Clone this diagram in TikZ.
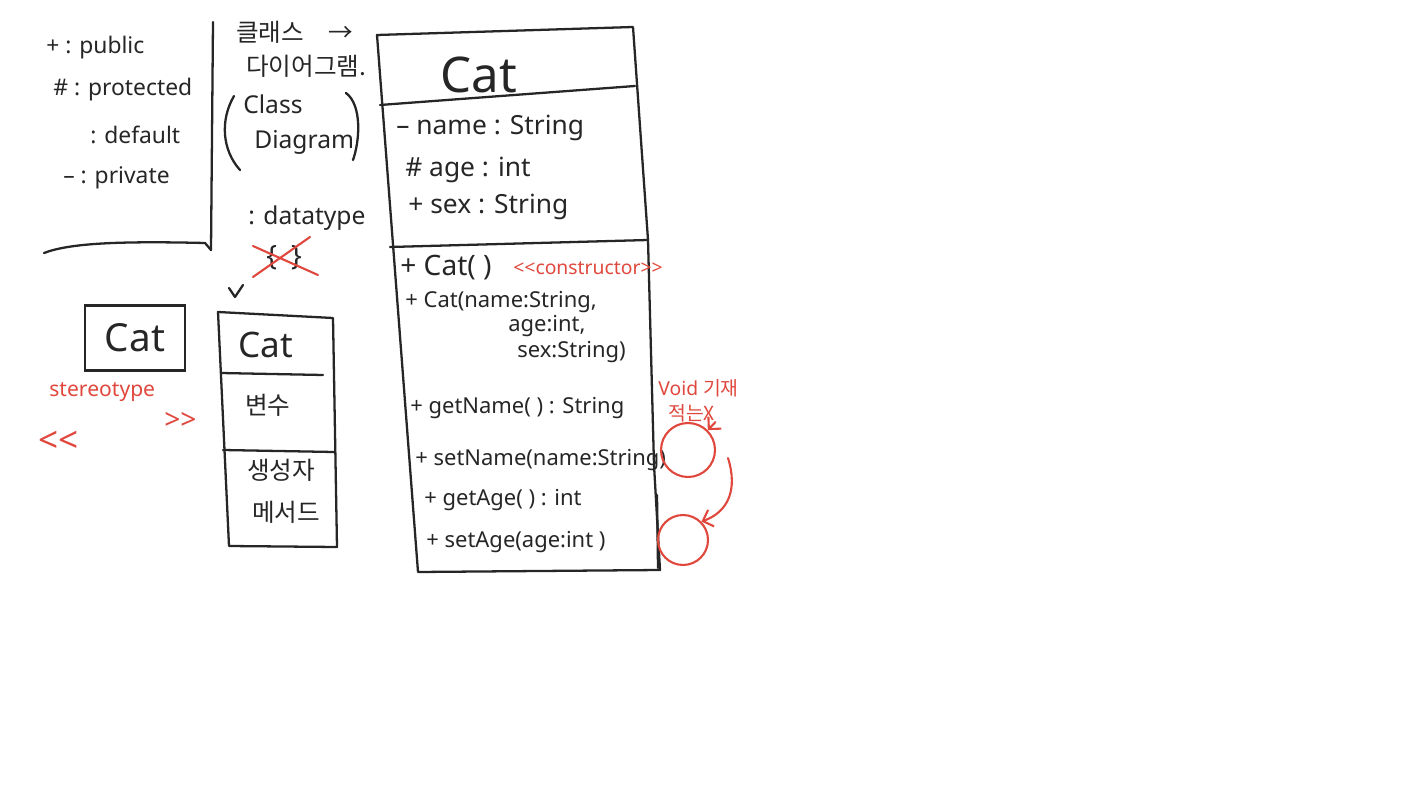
\documentclass[tikz,border=0pt]{standalone}
\usepackage{fontspec}
\setmainfont{Noto Sans}
\newfontfamily\kr{Noto Sans CJK KR}
\usepackage{tikz}
\usetikzlibrary{positioning, arrows.meta}
\definecolor{pen}{HTML}{262626}
\definecolor{redpen}{HTML}{E0483E}

\tikzset{
  ink/.style={draw=pen, line width=1.3pt, line cap=round, line join=round},
  redink/.style={draw=redpen, line width=1.2pt, line cap=round, line join=round},
  note/.style={anchor=west, inner sep=0pt, text=pen, font=\fontsize{13}{15}\selectfont},
  member/.style={note, font=\fontsize{15}{18}\selectfont},
  method/.style={note, font=\fontsize{12.5}{15}\selectfont},
  rednote/.style={anchor=west, inner sep=0pt, text=redpen, font=\fontsize{11}{13}\selectfont},
  krnote/.style={note, font=\kr\fontsize{14}{16}\selectfont},
}

\begin{document}
\begin{tikzpicture}[x=0.02cm, y=-0.02cm]
  \useasboundingbox (0,0) rectangle (1422,800);

  % visibility legend
  \node[note] (pub)  at (46,48)  {+ : public};
  \node[note] (prot) at (53,90)  {\# : protected};
  \node[note] (dflt) at (90,135) {: default};
  \node[note] (priv) at (63,178) {-- : private};
  \draw[ink] (213,22) -- (211,250);
  \draw[ink] (44,253) .. controls (70,243) and (120,241) .. (205,243) -- (211,250);

  % title notes
  \node[krnote] (title1) at (236,32) {클래스\quad →};
  \node[krnote] (title2) at (246,66) {다이어그램.};
  \node[note, font=\fontsize{14}{16}\selectfont] (cls) at (243,104) {Class};
  \node[note, font=\fontsize{14}{16}\selectfont] (dia) at (254,142) {Diagram};
  \draw[ink] (234,96) .. controls (220,120) and (222,150) .. (240,170);
  \draw[ink] (346,93) .. controls (362,105) and (360,140) .. (353,160);

  \node[note, font=\fontsize{14}{16}\selectfont] (dtype) at (248,218) {: datatype};
  \node[note, font=\fontsize{16}{18}\selectfont] (brace) at (266,258) {\{\enspace\}};
  \draw[redink] (253,277) -- (310,237);
  \draw[redink] (253,246) -- (318,275);
  \draw[ink] (229,288) -- (235,297) -- (243,285);

  % small class box
  \node[draw=pen, line width=1.3pt, minimum width=2cm, minimum height=1.3cm,
        font=\fontsize{22}{24}\selectfont, text=pen] (cat0) at (135,338) {Cat};
  \node[rednote, font=\fontsize{12}{14}\selectfont] (stereo) at (49,392) {stereotype};
  \node[rednote, font=\fontsize{20}{22}\selectfont] (lguil) at (38,442) {<{}<};
  \node[rednote, font=\fontsize{16}{18}\selectfont] (rguil) at (164,421) {>{}>};

  % class box with compartments
  \draw[ink] (218,312) -- (333,318) -- (337,547) -- (229,546) -- cycle;
  \draw[ink] (221,373) -- (323,375);
  \draw[ink] (223,450) -- (334,452);
  \node[note, font=\fontsize{20}{22}\selectfont] (cat1) at (238,345) {Cat};
  \node[krnote] (var)  at (245,405) {변수};
  \node[krnote] (ctor) at (247,470) {생성자};
  \node[krnote] (meth) at (252,512) {메서드};

  % Cat class
  \draw[ink] (377,35) -- (633,27) -- (648,240) -- (654,465) -- (660,570)
    -- (418,572) -- cycle;
  \draw[ink] (380,105) -- (635,86);
  \draw[ink] (390,247) -- (648,240);
  \draw[ink] (657,495) -- (658,568);
  \node[note, font=\fontsize{28}{30}\selectfont] (cat2) at (440,75) {Cat};

  \node[member] (name) at (396,128) {-- name : String};
  \node[member] (age)  at (405,170) {\# age : int};
  \node[member] (sex)  at (408,207) {+ sex : String};

  \node[method, font=\fontsize{16}{18}\selectfont] (ctor0) at (400,268) {+ Cat( )};
  \node[rednote] (ctag) [right=12pt of ctor0] {<{}<constructor>{}>};
  \node[method] (ctor1) at (405,302) {+ Cat(name:String,};
  \node[method] (ctor2) at (508,326) {age:int,};
  \node[method] (ctor3) at (517,352) {sex:String)};
  \node[method] (getn) at (410,408) {+ getName( ) : String};
  \node[method] (setn) at (415,460) {+ setName(name:String)};
  \node[method] (geta) at (424,500) {+ getAge( ) : int};
  \node[method] (seta) at (426,542) {+ setAge(age:int )};

  % void remark
  \node[rednote] (void1) at (658,388) {Void {\kr 기재}};
  \node[rednote, font=\kr\fontsize{11}{13}\selectfont] (void2) at (668,413) {적는X};
  \node[draw=redpen, line width=1.2pt, circle, minimum size=1.08cm] (ring1) at (688,450) {};
  \node[draw=redpen, line width=1.2pt, circle, minimum size=1cm] (ring2) at (683,540) {};
  \coordinate (bend) at (728,458);
  \draw[redink, -{Straight Barb[length=5pt]}] (void2.south east) -- (ring1.north east);
  \draw[redink, -{Straight Barb[length=5pt]}] (bend) .. controls (738,490) and (728,512) .. (ring2.north east);
\end{tikzpicture}
\end{document}
